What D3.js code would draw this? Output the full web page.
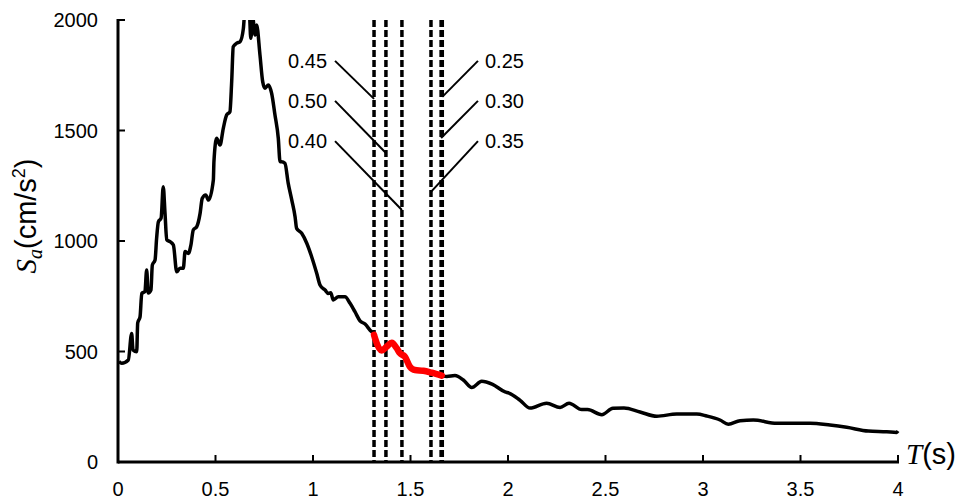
<!DOCTYPE html>
<html>
<head>
<meta charset="utf-8">
<script src="https://cdn.jsdelivr.net/npm/d3@7"></script>
<style>
  html, body { margin: 0; padding: 0; background: #fff; }
  svg { display: block; }
  text { font-family: "Liberation Sans", Arial, sans-serif; fill: #000; }
</style>
</head>
<body>
<svg id="chart" width="964" height="501"></svg>
<script>
// Spectral acceleration response: period T (s) and Sa (cm/s^2)
const periodT = [0.005,0.019,0.053,0.070,0.077,0.096,0.101,0.113,0.122,0.138,0.147,0.155,0.169,0.176,0.190,0.198,0.207,0.221,0.232,0.241,0.250,0.267,0.284,0.301,0.318,0.335,0.344,0.361,0.374,0.386,0.404,0.421,0.432,0.450,0.464,0.489,0.492,0.506,0.523,0.540,0.557,0.574,0.583,0.591,0.609,0.626,0.643,0.651,0.673,0.681,0.691,0.703,0.711,0.728,0.742,0.754,0.771,0.788,0.805,0.822,0.831,0.839,0.856,0.873,0.891,0.908,0.916,0.942,0.968,0.993,1.019,1.036,1.062,1.078,1.091,1.104,1.130,1.164,1.190,1.215,1.241,1.267,1.292,1.313,1.318,1.352,1.378,1.404,1.429,1.446,1.472,1.497,1.523,1.566,1.609,1.660,1.686,1.728,1.771,1.814,1.865,1.921,1.985,2.005,2.062,2.113,2.198,2.267,2.313,2.378,2.408,2.481,2.538,2.595,2.677,2.763,2.865,2.968,3.019,3.087,3.130,3.190,3.258,3.378,3.549,3.651,3.737,3.848,3.942,3.993,4.000];
const accel = [455,447,462,582,507,499,629,657,763,771,869,765,778,891,914,1012,1087,1103,1246,1127,1005,997,982,861,877,877,952,944,982,1050,1065,1125,1193,1208,1185,1276,1359,1465,1434,1510,1570,1585,1721,1879,1895,1902,1962,2040,2040,1917,2010,1932,1977,1842,1721,1691,1706,1668,1570,1465,1359,1359,1352,1261,1186,1110,1057,1035,990,929,854,801,778,763,766,733,748,748,718,680,639,624,597,575,560,504,522,540,515,492,476,431,416,413,404,391,387,391,371,337,365,351,317,312,279,244,266,247,266,237,237,214,243,244,226,207,217,217,208,190,171,187,190,175,175,167,157,140,137,134,140];

// Highlighted period window
const windowStart = 1.313, windowEnd = 1.660;

// Vertical marker lines, one per label
const markerLabels = ["0.25", "0.30", "0.35", "0.40", "0.45", "0.50"];
const markerT      = [1.663, 1.657, 1.605, 1.456, 1.313, 1.374];
const markerHitSa  = [1652, 1466, 1222, 1140, 1643, 1398];  // where each leader meets its line
const markerSide   = ["right", "right", "right", "left", "left", "left"];
const markerRow    = [0, 1, 2, 2, 0, 1];

const xTicks = [0, 0.5, 1, 1.5, 2, 2.5, 3, 3.5, 4];
const xTickLabels = ["0", "0.5", "1", "1.5", "2", "2.5", "3", "3.5", "4"];
const yTicks = [0, 500, 1000, 1500, 2000];
const yTickLabels = ["0", "500", "1000", "1500", "2000"];

const svg = d3.select("#chart");
const x = d3.scaleLinear().domain([0, 4]).range([118, 898]);
const y = d3.scaleLinear().domain([0, 2000]).range([462, 20]);

svg.append("defs").append("clipPath").attr("id", "plotClip")
  .append("rect").attr("x", x(0)).attr("y", y(2000))
  .attr("width", x(4) - x(0) + 4).attr("height", y(0) - y(2000));

const pts = periodT.map((t, i) => [t, accel[i]]);
const line = d3.line().x(d => x(d[0])).y(d => y(d[1])).curve(d3.curveMonotoneX);

const plot = svg.append("g").attr("clip-path", "url(#plotClip)");

// dashed period markers
plot.selectAll("line.marker").data(markerT).join("line")
  .attr("class", "marker")
  .attr("x1", d => x(d)).attr("x2", d => x(d))
  .attr("y1", y(2000)).attr("y2", y(0))
  .attr("stroke", "#000").attr("stroke-width", 3.5)
  .attr("stroke-dasharray", "7,3");

// response curve
plot.append("path").datum(pts)
  .attr("d", line).attr("fill", "none")
  .attr("stroke", "#000").attr("stroke-width", 3.5)
  .attr("stroke-linejoin", "round");

// highlighted window
plot.append("path").datum(pts.filter(d => d[0] >= windowStart - 1e-9 && d[0] <= windowEnd + 1e-9))
  .attr("d", line).attr("fill", "none")
  .attr("stroke", "#ff0000").attr("stroke-width", 6.5)
  .attr("stroke-linejoin", "round").attr("stroke-linecap", "round");

// leader lines and labels
const rowSa = [1806, 1625, 1443];
const leftAnchorT = 1.113, rightAnchorT = 1.846;
markerLabels.forEach((lab, i) => {
  const left = markerSide[i] === "left";
  const ax = x(left ? leftAnchorT : rightAnchorT);
  const ay = y(rowSa[markerRow[i]]) - 2;
  svg.append("line")
    .attr("x1", ax).attr("y1", ay)
    .attr("x2", x(markerT[i])).attr("y2", y(markerHitSa[i]))
    .attr("stroke", "#000").attr("stroke-width", 2);
  svg.append("text")
    .attr("x", left ? ax - 8 : ax + 7)
    .attr("y", ay + 7)
    .attr("text-anchor", left ? "end" : "start")
    .attr("font-size", 20)
    .text(lab);
});

// axes
const axisG = svg.append("g");
axisG.selectAll("line.xt").data(xTicks).join("line")
  .attr("x1", d => x(d)).attr("x2", d => x(d))
  .attr("y1", y(0)).attr("y2", y(0) - 7)
  .attr("stroke", "#000").attr("stroke-width", 2);
axisG.selectAll("line.yt").data(yTicks).join("line")
  .attr("x1", x(0)).attr("x2", x(0) + 7)
  .attr("y1", d => y(d)).attr("y2", d => y(d))
  .attr("stroke", "#000").attr("stroke-width", 2);
axisG.append("line").attr("x1", x(0)).attr("x2", x(4) + 1)
  .attr("y1", y(0)).attr("y2", y(0))
  .attr("stroke", "#000").attr("stroke-width", 3);
axisG.append("line").attr("x1", x(0)).attr("x2", x(0))
  .attr("y1", y(0) + 1.5).attr("y2", y(2000) - 1)
  .attr("stroke", "#000").attr("stroke-width", 3);

axisG.selectAll("text.xl").data(xTicks).join("text")
  .attr("x", d => x(d)).attr("y", 496)
  .attr("text-anchor", "middle").attr("font-size", 20)
  .text((d, i) => xTickLabels[i]);
axisG.selectAll("text.yl").data(yTicks).join("text")
  .attr("x", 98).attr("y", d => y(d) + 7)
  .attr("text-anchor", "end").attr("font-size", 20)
  .text((d, i) => yTickLabels[i]);

// axis titles
const xt = svg.append("text").attr("x", 906).attr("y", 464).attr("font-size", 29);
xt.append("tspan").attr("font-family", "'Liberation Serif', 'Times New Roman', serif")
  .attr("font-style", "italic").text("T");
xt.append("tspan").text("(s)");

const yt = svg.append("text")
  .attr("transform", "translate(36,216) rotate(-90)")
  .attr("text-anchor", "middle").attr("font-size", 29);
yt.append("tspan").attr("font-family", "'Liberation Serif', 'Times New Roman', serif")
  .attr("font-style", "italic").text("S");
yt.append("tspan").attr("font-family", "'Liberation Serif', 'Times New Roman', serif")
  .attr("font-style", "italic").attr("font-size", 20).attr("dy", 6).text("a");
yt.append("tspan").attr("dy", -6).text("(cm/s");
yt.append("tspan").attr("font-size", 18).attr("dy", -11).text("2");
yt.append("tspan").attr("dy", 11).text(")");
</script>
</body>
</html>
